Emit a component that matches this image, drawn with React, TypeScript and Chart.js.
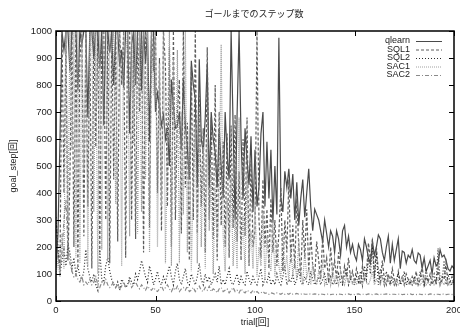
import React, { useEffect, useRef } from "react";
import { Chart, registerables } from "chart.js";

Chart.register(...registerables);

const TITLE = "ゴールまでのステップ数";
const X_LABEL = "trial[回]";
const Y_LABEL = "goal_step[回]";

const trials: number[] = Array.from({ length: 201 }, (_, i) => i);

const qlearn = [
  120, 250, 600, 1000, 930, 1000, 1000, 850, 1000, 1000,
  1000, 780, 1000, 950, 1000, 1000, 680, 1000, 1000, 900,
  1000, 1000, 860, 1000, 650, 1000, 1000, 920, 1000, 800,
  1000, 1000, 870, 930, 790, 1000, 1000, 620, 950, 1000,
  800, 1000, 1000, 780, 1000, 880, 1000, 590, 1000, 1000,
  700, 770, 720, 650, 690, 600, 640, 500, 820, 720,
  640, 650, 700, 560, 820, 650, 570, 450, 890, 800,
  750, 420, 895, 600, 550, 680, 880, 420, 700, 600,
  550, 420, 640, 500, 380, 700, 540, 450, 1000, 650,
  300, 690, 1000, 600, 380, 640, 520, 430, 610, 330,
  560, 350, 420, 620, 700, 350, 590, 380, 560, 290,
  500, 320, 975, 380, 330, 480, 420, 490, 380, 470,
  300, 440, 280, 380, 450, 310, 400, 490, 350, 260,
  340, 320, 300, 260, 220, 300, 250, 200, 260, 240,
  180, 260, 230, 170, 260, 280, 200, 240, 180, 210,
  170, 150, 210, 190, 150, 230, 200, 160, 140, 220,
  170, 200, 245, 230, 180, 150, 200, 240, 140, 210,
  150, 190, 230, 120, 185, 180, 140, 170, 160, 190,
  150, 140, 178, 170, 120, 160, 110, 130, 150, 100,
  160, 130, 140, 190, 163, 170, 150, 120, 111, 130,
  120,
];

const sql1 = [
  300, 180, 120, 1000, 400, 1000, 150, 460, 1000, 200,
  1000, 130, 900, 1000, 240, 1000, 350, 1000, 120, 1000,
  570, 1000, 180, 1000, 1000, 300, 1000, 140, 1000, 450,
  1000, 220, 1000, 800, 1000, 160, 1000, 1000, 300, 1000,
  230, 1000, 700, 1000, 180, 1000, 900, 270, 1000, 850,
  1000, 400, 900, 260, 1000, 870, 350, 940, 200, 1000,
  300, 700, 820, 250, 1000, 420, 660, 150, 870, 300,
  1000, 250, 760, 350, 640, 180, 940, 300, 680, 230,
  800, 150, 700, 280, 590, 200, 620, 160, 650, 270,
  690, 220, 480, 150, 600, 240, 680, 130, 520, 200,
  260, 1000, 300, 160, 450, 200, 340, 120, 380, 180,
  300, 130, 250, 420, 110, 300, 180, 450, 140, 280,
  120, 380, 200, 90, 300, 160, 340, 110, 250, 130,
  90, 220, 150, 80, 240, 120, 160, 70, 200, 100,
  150, 80, 180, 110, 70, 130, 90, 160, 80, 110,
  70, 120, 90, 60, 130, 80, 100, 215, 150, 230,
  90, 200, 110, 70, 150, 80, 60, 100, 70, 120,
  80, 60, 110, 70, 90, 60, 100, 80, 60, 90,
  70, 110, 60, 80, 130, 60, 90, 70, 100, 60,
  80, 70, 120, 60, 90, 80, 140, 60, 70, 90,
  60,
];

const sql2 = [
  310, 200, 100, 150, 190, 130, 210, 180, 120, 160,
  100, 130, 90, 80, 110, 190, 120, 90, 70, 100,
  60, 40, 190, 80, 70, 130, 160, 110, 80, 60,
  50, 70, 40, 80, 70, 50, 60, 90, 70, 60,
  100, 80, 110, 150, 120, 90, 70, 130, 100, 60,
  80, 110, 70, 60, 90, 70, 100, 130, 90, 60,
  110, 140, 80, 60, 90, 120, 70, 60, 100, 80,
  60, 90, 140, 80, 60, 100, 70, 90, 60, 80,
  100, 70, 130, 60, 80, 60, 90, 120, 70, 60,
  80, 100, 60, 90, 70, 60, 110, 80, 60, 90,
  70, 60, 90, 120, 60, 80, 70, 100, 60, 80,
  60, 100, 70, 60, 90, 130, 60, 80, 70, 100,
  60, 80, 120, 70, 60, 90, 70, 60, 110, 80,
  60, 70, 90, 60, 80, 100, 60, 70, 90, 60,
  80, 60, 100, 70, 60, 90, 120, 60, 80, 70,
  60, 90, 70, 110, 60, 130, 80, 160, 100, 200,
  70, 180, 60, 120, 90, 60, 110, 70, 60, 90,
  60, 80, 100, 60, 70, 110, 60, 80, 70, 60,
  90, 60, 70, 110, 80, 60, 120, 70, 60, 80,
  100, 60, 195, 80, 70, 150, 60, 100, 70, 60,
  80,
];

const sac1 = [
  100, 150, 90, 250, 120, 1000, 300, 1000, 560, 1000,
  160, 1000, 140, 1000, 480, 1000, 130, 1000, 1000, 330,
  1000, 100, 1000, 190, 1000, 1000, 150, 1000, 920, 1000,
  360, 1000, 1000, 130, 1000, 920, 1000, 240, 1000, 580,
  1000, 250, 1000, 330, 1000, 450, 1000, 180, 1000, 760,
  1000, 200, 880, 350, 1000, 140, 600, 1000, 130, 900,
  350, 930, 140, 700, 320, 1000, 180, 640, 110, 470,
  650, 140, 720, 200, 570, 120, 600, 260, 480, 100,
  420, 180, 420, 950, 240, 110, 380, 200, 460, 130,
  300, 120, 680, 160, 320, 100, 470, 150, 260, 120,
  380, 90, 200, 130, 330, 80, 240, 150, 110, 300,
  90, 220, 130, 80, 250, 110, 170, 70, 200, 100,
  150, 80, 230, 100, 70, 180, 90, 120, 60, 140,
  80, 60, 110, 90, 140, 60, 80, 100, 60, 120,
  70, 90, 60, 110, 80, 60, 90, 70, 100, 60,
  80, 60, 90, 70, 60, 100, 70, 60, 80, 110,
  60, 80, 70, 60, 90, 60, 70, 80, 60, 70,
  60, 80, 60, 70, 90, 60, 70, 60, 80, 60,
  70, 60, 80, 60, 70, 90, 60, 70, 60, 80,
  60, 70, 80, 60, 70, 60, 80, 70, 60, 70,
  60,
];

const sac2 = [
  200, 160, 120, 180, 300, 375, 200, 140, 110, 90,
  100, 80, 70, 90, 60, 70, 60, 80, 60, 70,
  90, 60, 50, 70, 60, 80, 60, 50, 60, 70,
  50, 60, 45, 55, 70, 50, 60, 75, 50, 60,
  70, 55, 45, 60, 50, 40, 55, 45, 40, 50,
  40, 35, 45, 55, 40, 50, 60, 45, 35, 50,
  40, 55, 35, 45, 50, 40, 55, 35, 40, 50,
  35, 45, 55, 40, 35, 50, 40, 55, 35, 45,
  40, 30, 45, 50, 35, 40, 45, 30, 40, 50,
  35, 40, 30, 45, 35, 30, 40, 35, 30, 40,
  30, 35, 28, 30, 35, 28, 30, 25, 30, 28,
  25, 30, 28, 25, 30, 25, 28, 25, 30, 25,
  25, 28, 25, 25, 28, 25, 25, 27, 25, 25,
  26, 25, 24, 26, 25, 24, 25, 26, 24, 25,
  25, 24, 26, 25, 24, 25, 25, 26, 24, 25,
  24, 25, 26, 24, 25, 25, 24, 26, 25, 24,
  25, 26, 24, 25, 24, 25, 26, 25, 24, 25,
  25, 24, 25, 26, 24, 25, 24, 25, 26, 24,
  25, 24, 26, 25, 24, 25, 25, 24, 26, 25,
  24, 25, 25, 24, 26, 25, 24, 25, 25, 24,
  25,
];

const SERIES_NAMES = ["qlearn", "SQL1", "SQL2", "SAC1", "SAC2"];
const SERIES_VALUES = [qlearn, sql1, sql2, sac1, sac2];
const SERIES_COLORS = ["#4a4a4a", "#5c5c5c", "#2a2a2a", "#a0a0a0", "#8a8a8a"];
const SERIES_DASHES: number[][] = [[], [3, 2], [1, 2], [1, 1], [4, 2, 1, 2]];

const X_TICKS_STEP = 50;
const Y_TICKS_STEP = 100;

const FONT = "'Liberation Sans', 'DejaVu Sans', sans-serif";
const CJK_FONT = "'Liberation Sans', 'Noto Sans CJK JP', sans-serif";

const framePlugin = {
  id: "gnuplotFrame",
  afterDatasetsDraw(chart: any) {
    const { ctx, chartArea, scales } = chart;
    const { left, right, top, bottom } = chartArea;
    ctx.save();
    // legend
    ctx.font = `9px ${FONT}`;
    ctx.textAlign = "right";
    ctx.textBaseline = "middle";
    const legTextRight = right - 44;
    const legLineStart = right - 38;
    const legLineEnd = right - 12;
    SERIES_NAMES.forEach((name, i) => {
      const y = top + 10 + i * 8.5;
      ctx.fillStyle = "#222";
      ctx.fillText(name, legTextRight, y);
      ctx.strokeStyle = SERIES_COLORS[i];
      ctx.lineWidth = 1;
      ctx.setLineDash(SERIES_DASHES[i]);
      ctx.beginPath();
      ctx.moveTo(legLineStart, y + 0.5);
      ctx.lineTo(legLineEnd, y + 0.5);
      ctx.stroke();
    });
    ctx.setLineDash([]);
    // ticks
    ctx.strokeStyle = "#000";
    ctx.lineWidth = 1;
    const tl = 5;
    scales.y.ticks.forEach((t: any) => {
      const py = Math.round(scales.y.getPixelForValue(t.value)) + 0.5;
      ctx.beginPath();
      ctx.moveTo(left, py);
      ctx.lineTo(left + tl, py);
      ctx.moveTo(right, py);
      ctx.lineTo(right - tl, py);
      ctx.stroke();
    });
    scales.x.ticks.forEach((t: any) => {
      const px = Math.round(scales.x.getPixelForValue(t.value)) + 0.5;
      ctx.beginPath();
      ctx.moveTo(px, bottom);
      ctx.lineTo(px, bottom - tl);
      ctx.moveTo(px, top);
      ctx.lineTo(px, top + tl);
      ctx.stroke();
    });
    // border
    ctx.lineWidth = 1.5;
    ctx.strokeRect(left, top, right - left, bottom - top);
    // title
    ctx.font = `9px ${CJK_FONT}`;
    ctx.fillStyle = "#222";
    ctx.textAlign = "center";
    ctx.textBaseline = "middle";
    ctx.fillText(TITLE, (left + right) / 2 - 1, 15);
    ctx.restore();
  },
};

export default function App() {
  const canvasRef = useRef<HTMLCanvasElement | null>(null);

  useEffect(() => {
    document.body.style.margin = "0";
    const canvas = canvasRef.current;
    if (!canvas) return;
    const datasets = SERIES_NAMES.map((name, i) => ({
      label: name,
      data: SERIES_VALUES[i].map((v, j) => ({ x: trials[j], y: v })),
      borderColor: SERIES_COLORS[i],
      borderWidth: 1.2,
      borderDash: SERIES_DASHES[i],
      pointRadius: 0,
      tension: 0,
      fill: false,
      order: SERIES_NAMES.length - i,
    }));
    const chart = new Chart(canvas, {
      type: "line",
      data: { datasets },
      plugins: [framePlugin],
      options: {
        animation: false,
        responsive: false,
        maintainAspectRatio: false,
        devicePixelRatio: 1,
        layout: { padding: { top: 31, right: 6, left: 0, bottom: 0 } },
        plugins: {
          legend: { display: false },
          title: { display: false },
          tooltip: { enabled: false },
        },
        scales: {
          x: {
            type: "linear",
            min: 0,
            max: 200,
            ticks: {
              stepSize: X_TICKS_STEP,
              color: "#222",
              font: { family: FONT, size: 9.5 },
              padding: 4,
              maxRotation: 0,
              callback: (v: any) => String(v),
            },
            grid: { display: false, drawTicks: false },
            border: { display: false },
            title: {
              display: true,
              text: X_LABEL,
              color: "#222",
              font: { family: CJK_FONT, size: 9 },
              padding: { top: 0, bottom: 0 },
            },
            afterFit: (s: any) => {
              s.height = 27;
              s.paddingLeft = 0;
              s.paddingRight = 0;
            },
          },
          y: {
            type: "linear",
            min: 0,
            max: 1000,
            ticks: {
              stepSize: Y_TICKS_STEP,
              color: "#222",
              font: { family: FONT, size: 9.5 },
              padding: 4,
              callback: (v: any) => String(v),
            },
            grid: { display: false, drawTicks: false },
            border: { display: false },
            title: {
              display: true,
              text: Y_LABEL,
              color: "#222",
              font: { family: CJK_FONT, size: 9 },
              padding: { top: 8, bottom: 0 },
            },
            afterFit: (s: any) => {
              s.width = 56;
              s.paddingTop = 0;
              s.paddingBottom = 0;
            },
          },
        },
      } as any,
    });
    return () => chart.destroy();
  }, []);

  return (
    <canvas
      ref={canvasRef}
      width={460}
      height={328}
      style={{ display: "block", width: 460, height: 328 }}
    />
  );
}
